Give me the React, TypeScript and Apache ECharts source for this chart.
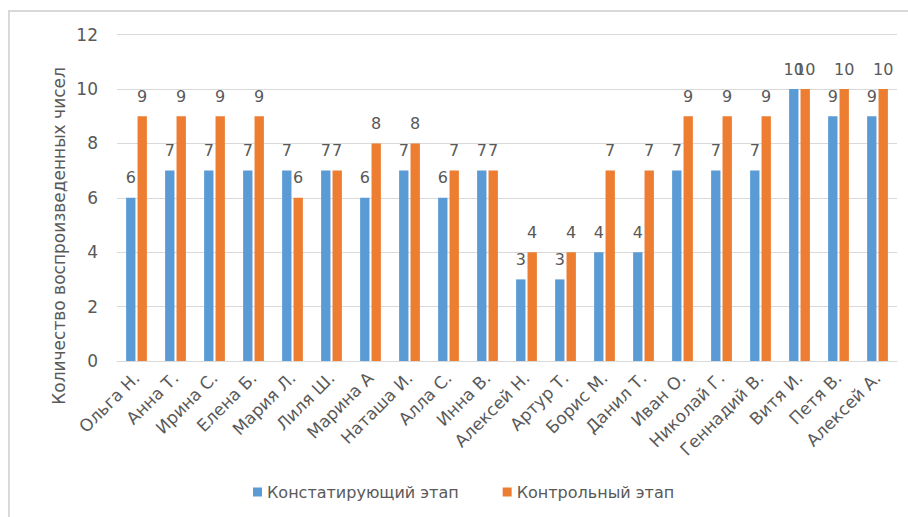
import React, { useEffect, useRef } from "react";
import * as echarts from "echarts";

const categories = [
  "Ольга Н.", "Анна Т.", "Ирина С.", "Елена Б.", "Мария Л.", "Лиля Ш.", "Марина А",
  "Наташа И.", "Алла С.", "Инна В.", "Алексей Н.", "Артур Т.", "Борис М.", "Данил Т.",
  "Иван О.", "Николай Г.", "Геннадий В.", "Витя И.", "Петя В.", "Алексей А.",
];
const stage1 = [6, 7, 7, 7, 7, 7, 6, 7, 6, 7, 3, 3, 4, 4, 7, 7, 7, 10, 9, 9];
const stage2 = [9, 9, 9, 9, 6, 7, 8, 8, 7, 7, 4, 4, 7, 7, 9, 9, 9, 10, 10, 10];
const seriesNames = ["Констатирующий этап", "Контрольный этап"];
const yAxisName = "Количество воспроизведенных чисел";

const FONT = "DejaVu Sans";
const TEXT = "#595959";

export default function App() {
  const ref = useRef<HTMLDivElement>(null);
  useEffect(() => {
    if (!ref.current) return;
    const chart = echarts.init(ref.current, null, { renderer: "svg" });
    const label = {
      show: true,
      position: "top" as const,
      distance: 12,
      color: TEXT,
      fontFamily: FONT,
      fontSize: 16,
    };
    chart.setOption({
      animation: false,
      textStyle: { fontFamily: FONT },
      graphic: [
        {
          type: "rect",
          shape: { x: 9, y: 11, width: 1000, height: 700 },
          style: { fill: "none", stroke: "#D9D9D9", lineWidth: 2 },
          silent: true,
        },
        {
          type: "text",
          x: 59,
          y: 236,
          rotation: Math.PI / 2,
          style: {
            text: yAxisName,
            fill: TEXT,
            fontFamily: FONT,
            fontSize: 17,
            align: "center",
            verticalAlign: "middle",
          },
          silent: true,
        },
      ],
      grid: { left: 117, right: 11, top: 34.6, bottom: 156 },
      legend: {
        left: 248,
        top: 479,
        itemWidth: 9,
        itemHeight: 9,
        itemGap: 44,
        icon: "rect",
        textStyle: { color: TEXT, fontFamily: FONT, fontSize: 16 },
        data: seriesNames,
      },
      xAxis: {
        type: "category",
        data: categories,
        axisLine: { lineStyle: { color: "#D9D9D9", width: 1 } },
        axisTick: { show: false },
        axisLabel: {
          rotate: 45,
          interval: 0,
          color: TEXT,
          fontFamily: FONT,
          fontSize: 17,
          margin: 14,
        },
      },
      yAxis: {
        type: "value",
        min: 0,
        max: 12,
        interval: 2,
        axisLine: { show: false },
        axisTick: { show: false },
        splitLine: { lineStyle: { color: "#D9D9D9", width: 1 } },
        axisLabel: { color: TEXT, fontFamily: FONT, fontSize: 17, margin: 19 },
      },
      series: [
        {
          name: seriesNames[0],
          type: "bar",
          data: stage1,
          barWidth: "24%",
          barGap: "22%",
          itemStyle: { color: "#5B9BD5" },
          label,
        },
        {
          name: seriesNames[1],
          type: "bar",
          data: stage2,
          barWidth: "24%",
          itemStyle: { color: "#ED7D31" },
          label,
        },
      ],
    });
    return () => chart.dispose();
  }, []);
  return (
    <div
      ref={ref}
      style={{ position: "fixed", left: 0, top: 0, width: 908, height: 517, background: "#fff" }}
    />
  );
}
